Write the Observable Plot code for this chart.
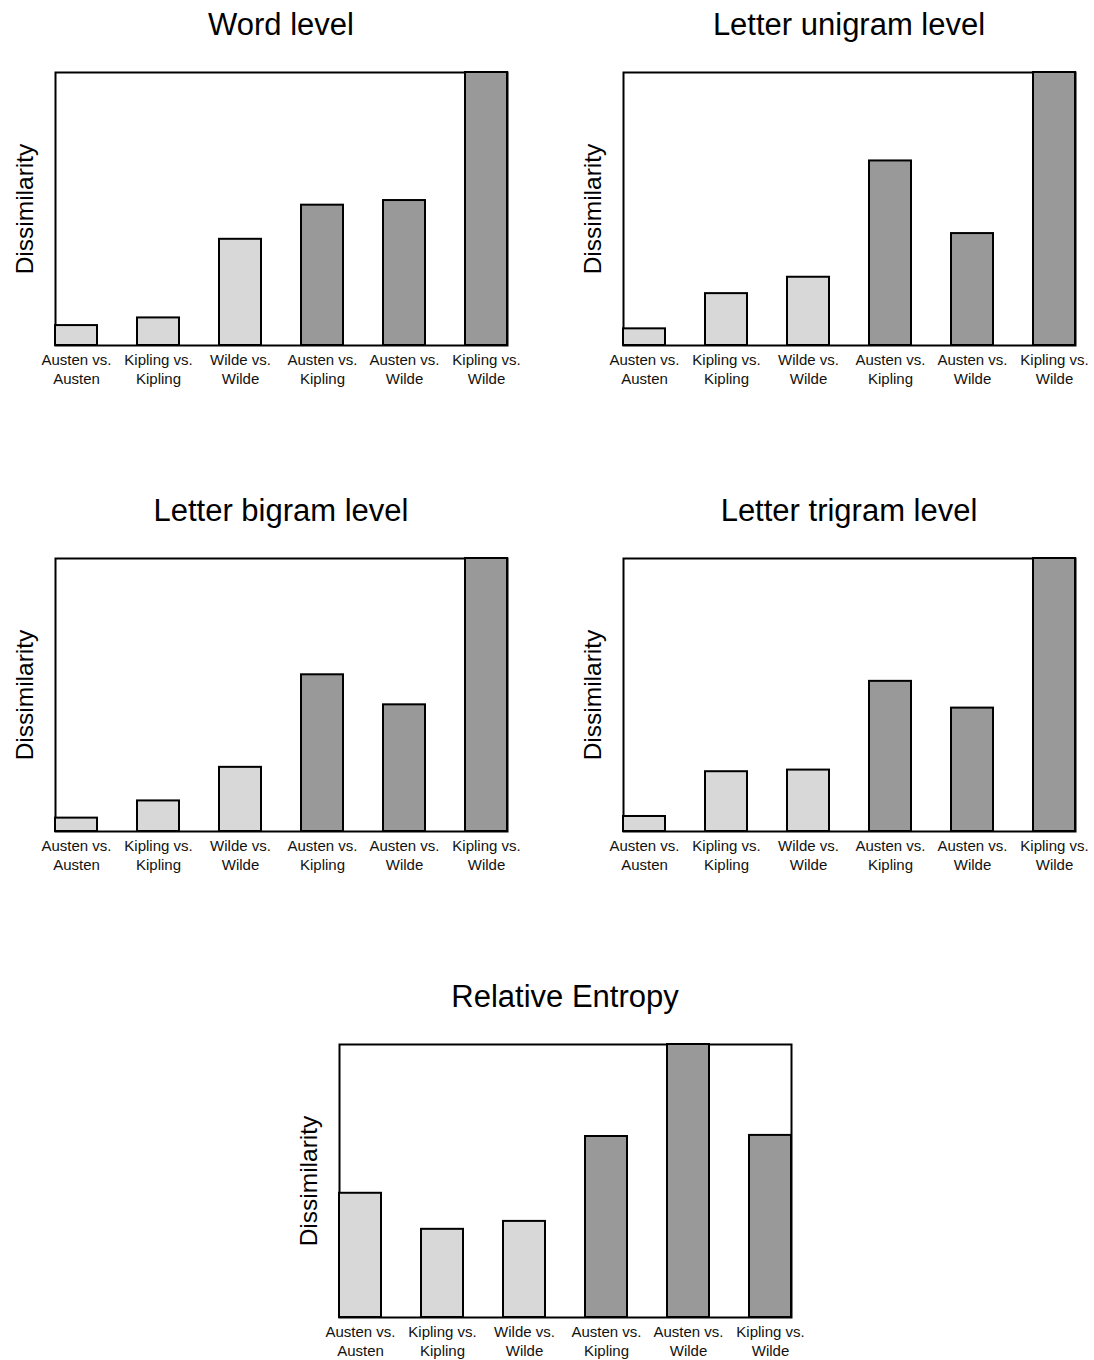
<!DOCTYPE html>
<html>
<head>
<meta charset="utf-8">
<script src="https://cdn.jsdelivr.net/npm/d3@7"></script>
<script src="https://cdn.jsdelivr.net/npm/@observablehq/plot@0.6"></script>
<style>
  html, body { margin: 0; padding: 0; background: #fff; overflow: hidden; }
  #root { position: relative; width: 1094px; height: 1360px; font-family: "Liberation Sans", Arial, sans-serif; }
  .panel { position: absolute; }
  .title { height: 50px; line-height: 50px; font-size: 31px; color: #000; text-align: center; white-space: nowrap; }
  .panel svg { display: block; overflow: visible; }
</style>
</head>
<body>
<div id="root"></div>
<script>
// ---- data ----
const pairs = ["Austen vs.\nAusten", "Kipling vs.\nKipling", "Wilde vs.\nWilde",
               "Austen vs.\nKipling", "Austen vs.\nWilde", "Kipling vs.\nWilde"];
const kinds = ["within", "within", "within", "between", "between", "between"];
const panelTitles = ["Word level", "Letter unigram level", "Letter bigram level", "Letter trigram level", "Relative Entropy"];
const wordLevel = [0.073, 0.101, 0.389, 0.514, 0.531, 1.0];
const unigramLevel = [0.061, 0.190, 0.250, 0.676, 0.410, 1.0];
const bigramLevel = [0.049, 0.112, 0.235, 0.574, 0.464, 1.0];
const trigramLevel = [0.055, 0.219, 0.225, 0.550, 0.452, 1.0];
const relativeEntropy = [0.455, 0.323, 0.352, 0.663, 1.0, 0.667];
const yLabel = "Dissimilarity";

const seriesList = [wordLevel, unigramLevel, bigramLevel, trigramLevel, relativeEntropy];
// frame positions (left, top) of each panel's plotting area
const frames = [[55, 72], [623, 72], [55, 558], [623, 558], [339, 1044]];

const root = document.getElementById("root");
const innerW = 452, innerH = 273;
const mL = 55, mR = 18, mT = 22, mB = 50;

seriesList.forEach((vals, i) => {
  const data = pairs.map((p, j) => ({pair: p, kind: kinds[j], value: vals[j]}));
  const [fx, fy] = frames[i];
  const wrap = document.createElement("div");
  wrap.className = "panel";
  wrap.style.left = (fx - mL) + "px";
  wrap.style.top = (fy - mT - 50) + "px";
  const title = document.createElement("div");
  title.className = "title";
  title.style.width = (mL + innerW + mL) + "px";
  title.textContent = panelTitles[i];
  wrap.appendChild(title);

  const chart = Plot.plot({
    width: mL + innerW + mR,
    height: mT + innerH + mB,
    marginLeft: mL, marginRight: mR, marginTop: mT, marginBottom: mB,
    style: {fontFamily: "Liberation Sans, Arial, sans-serif", fontSize: "15px", color: "#111", background: "transparent"},
    x: {type: "band", domain: pairs, paddingInner: 0.488, paddingOuter: 0, align: 0.5},
    y: {domain: [0, 1], axis: null},
    color: {domain: ["within", "between"], range: ["#d8d8d8", "#999999"]},
    marks: [
      Plot.frame({stroke: "#000", strokeWidth: 2}),
      Plot.barY(data, {x: "pair", y: "value", fill: "kind", stroke: "#000", strokeWidth: 2}),
      Plot.axisX({tickSize: 0, tickPadding: 6, fontSize: 15, lineHeight: 1.25, label: null}),
      Plot.text([yLabel], {text: d => d, frameAnchor: "left", rotate: -90, dx: -23, fontSize: 24.5, lineAnchor: "bottom", textAnchor: "middle", fill: "#000"})
    ]
  });
  wrap.appendChild(chart);
  root.appendChild(wrap);
});
</script>
</body>
</html>
